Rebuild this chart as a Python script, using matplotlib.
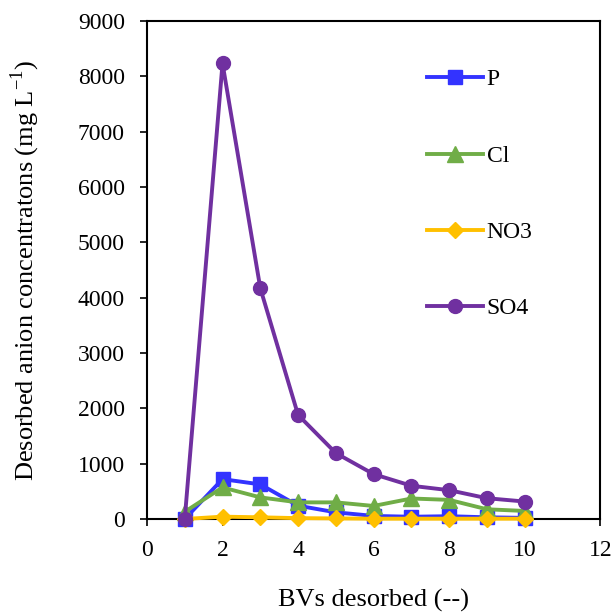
import matplotlib
matplotlib.use("Agg")
import matplotlib.pyplot as plt

plt.rcParams['font.family'] = ['Liberation Serif', 'DejaVu Serif']
plt.rcParams['mathtext.fontset'] = 'custom'
plt.rcParams['mathtext.rm'] = 'Liberation Serif'

bvs = [1, 2, 3, 4, 5, 6, 7, 8, 9, 10]
p_vals = [0, 720, 625, 240, 120, 55, 40, 50, 30, 20]
cl_vals = [130, 570, 390, 300, 300, 235, 370, 345, 175, 145]
no3_vals = [0, 42, 30, 15, 10, 5, 5, 5, 5, 5]
so4_vals = [0, 8230, 4170, 1880, 1190, 810, 600, 520, 375, 315]

fig = plt.figure(figsize=(6.15, 6.12), dpi=100)
ax = fig.add_axes([0.239, 0.152, 0.737, 0.814])

# draw above the spines so the markers at zero sit on top of the axis line
style = dict(lw=2.8, clip_on=False, zorder=3)
ax.plot(bvs, p_vals, color='#3333FF', marker='s', markersize=10, label='P', **style)
ax.plot(bvs, cl_vals, color='#70AD47', marker='^', markersize=11, label='Cl', **style)
ax.plot(bvs, no3_vals, color='#FFC000', marker='D', markersize=8.5, label='NO3', **style)
ax.plot(bvs, so4_vals, color='#7030A0', marker='o', markersize=10, label='SO4', **style)

ax.set_xlim(0, 12)
ax.set_ylim(0, 9000)
ax.set_xticks(range(0, 13, 2))
ax.set_yticks(range(0, 9001, 1000))
ax.tick_params(direction='out', length=5, width=1.2, labelsize=17)
ax.tick_params(axis='y', pad=11)
ax.tick_params(axis='x', pad=10)
for s in ax.spines.values():
    s.set_linewidth(1.5)

ax.set_xlabel('BVs desorbed (--)', fontsize=19, labelpad=20)
ax.set_ylabel(r'Desorbed anion concentratons (mg L$^{\mathregular{-1}}$)', fontsize=19, labelpad=26)

ax.legend(loc='upper left', bbox_to_anchor=(0.572, 0.946), frameon=False, fontsize=17,
          labelspacing=2.32, handlelength=2.35, handletextpad=0.15)

fig.savefig('out.png', dpi=100)
